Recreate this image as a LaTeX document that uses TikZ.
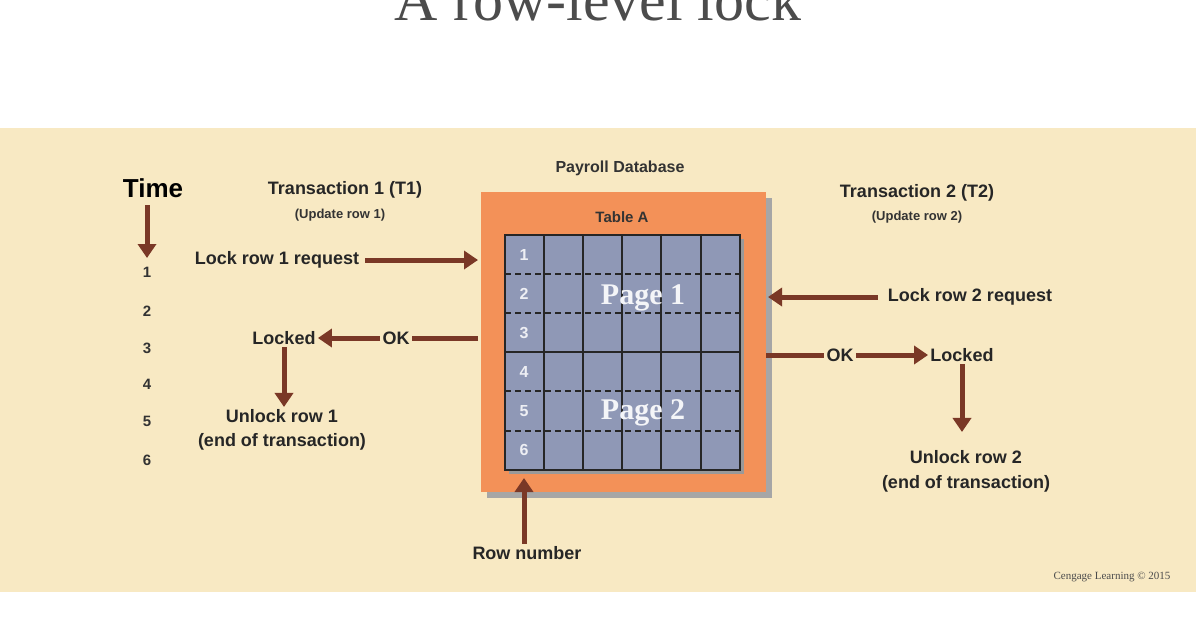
\documentclass[tikz,border=0pt]{standalone}
\usepackage{fontspec}
\setmainfont{Liberation Sans}
\newfontfamily\titlefont{Liberation Serif}
\usetikzlibrary{arrows.meta}
\definecolor{beige}{HTML}{F8E9C3}
\definecolor{brownarrow}{HTML}{7A3826}
\definecolor{tableorange}{HTML}{F39158}
\definecolor{gridblue}{HTML}{8F98B6}
\tikzset{
  lbl/.style={font=\bfseries\fontsize{9}{10}\selectfont, text=black!85, inner sep=1pt},
  sub/.style={font=\bfseries\fontsize{6.5}{7}\selectfont, text=black!80, inner sep=1pt},
  flow/.style={brownarrow, line width=2.5pt},
  flowarrow/.style={flow, -{Triangle[length=7pt,width=9pt]}},
}
\begin{document}
\begin{tikzpicture}[x=0.5pt,y=-0.5pt]
    \useasboundingbox (0,0) rectangle (1196,628);
    \fill[white] (0,0) rectangle (1196,628);

    % Title (cut at top)
    \node[anchor=base, font=\titlefont\fontsize{30}{30}\selectfont, text=black!70] (title) at (598,20) {A row-level lock};

    % Background panel
    \fill[beige] (0,128) rectangle (1196,592);

    % Table A with shadow
    \fill[black!35] (487,198) rectangle (772,498);
    \fill[tableorange] (481,192) rectangle (766,492);
    \fill[black!40] (509,239) rectangle (744,474);
    \fill[gridblue] (505,235) rectangle (740,470);
    \foreach \c in {544,583,622,661,701}
      \draw[black!85, line width=1.2pt] (\c,235) -- (\c,470);
    \foreach \r in {274,313,391,431}
      \draw[black!85, line width=1.2pt, dash pattern=on 3pt off 2pt] (505,\r) -- (740,\r);
    \draw[black!85, line width=1.2pt] (505,352) -- (740,352);
    \draw[black!85, line width=1.2pt] (505,235) rectangle (740,470);
    \foreach \r [count=\i] in {255,294,333,372,411,450}
      \node[font=\bfseries\fontsize{8}{8}\selectfont, text=white!85!gridblue] (row\i) at (524,\r) {\i};
    \node[font=\titlefont\bfseries\fontsize{15}{15}\selectfont, text=white!90!gridblue] (page1) at (643,298) {Page 1};
    \node[font=\titlefont\bfseries\fontsize{15}{15}\selectfont, text=white!90!gridblue] (page2) at (643,413) {Page 2};
    \node[sub, font=\bfseries\fontsize{7.5}{8}\selectfont] (tablea) at (622,217) {Table A};
    \node[sub, font=\bfseries\fontsize{8}{8}\selectfont] (db) at (620,168) {Payroll Database};

    % Time axis
    \node[font=\bfseries\fontsize{13}{13}\selectfont] (time) at (153,188) {Time};
    \coordinate (timeend) at (147,258);
    \draw[flowarrow] (147,205) -- (timeend);
    \foreach \y [count=\i] in {272,311,348,384,421,460}
      \node[sub, font=\bfseries\fontsize{7.5}{8}\selectfont] (t\i) at (147,\y) {\i};

    % Transaction 1
    \node[lbl] (tone) at (345,190) {Transaction 1 (T1)};
    \node[sub] (tonesub) at (340,215) {(Update row 1)};
    \node[lbl] (lockone) at (277,260) {Lock row 1 request};
    \coordinate (inone) at (478,260);
    \draw[flowarrow] (lockone.east) ++(4,0) -- (inone);
    \node[lbl] (okone) at (396,338) {OK};
    \coordinate (outone) at (478,338);
    \draw[flow] (outone) -- (okone.east);
    \node[lbl] (lockedone) at (284,338) {Locked};
    \draw[flowarrow] (okone.west) -- (lockedone.east);
    \node[lbl] (unlockone) at (282,416) {Unlock row 1};
    \node[lbl] (endone) at (282,442) {(end of transaction)};
    \draw[flowarrow] (lockedone.south) -- (unlockone.north -| lockedone.south);

    % Transaction 2
    \node[lbl] (ttwo) at (917,193) {Transaction 2 (T2)};
    \node[sub] (ttwosub) at (917,217) {(Update row 2)};
    \node[lbl] (locktwo) at (970,297) {Lock row 2 request};
    \coordinate (intwo) at (768,297);
    \draw[flowarrow] ([xshift=-4pt]locktwo.west) -- (intwo);
    \coordinate (outtwo) at (766,355);
    \node[lbl] (oktwo) at (840,355) {OK};
    \draw[flow] (outtwo) -- (oktwo.west);
    \node[lbl] (lockedtwo) at (962,355) {Locked};
    \draw[flowarrow] (oktwo.east) -- (lockedtwo.west);
    \node[lbl] (unlocktwo) at (966,457) {Unlock row 2};
    \node[lbl] (endtwo) at (966,484) {(end of transaction)};
    \draw[flowarrow] (lockedtwo.south) -- ([yshift=8pt]unlocktwo.north -| lockedtwo.south);

    % Row number pointer
    \node[lbl] (rownum) at (527,553) {Row number};
    \coordinate (rowtip) at (524,478);
    \draw[flowarrow] (rownum.north -| rowtip) -- (rowtip);

    \node[font=\titlefont\fontsize{5.5}{6}\selectfont, text=black!70] (credit) at (1112,577) {Cengage Learning © 2015};
\end{tikzpicture}
\end{document}
